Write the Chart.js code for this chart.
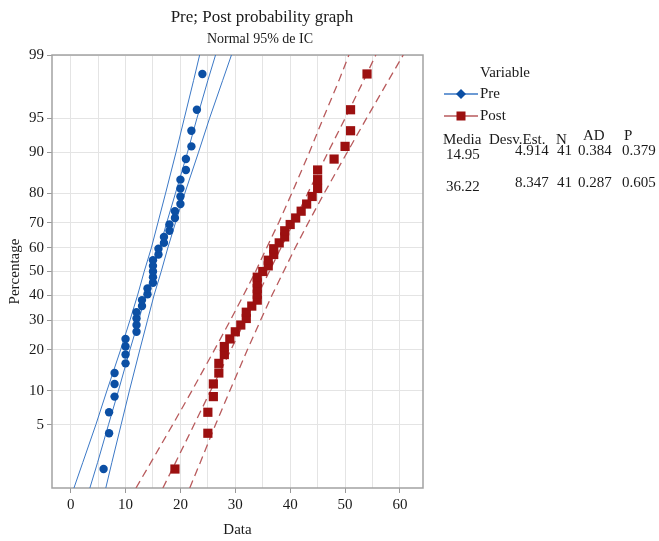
<!DOCTYPE html>
<html>
<head>
<meta charset="utf-8">
<title>Pre; Post probability graph</title>
<script src="https://cdn.jsdelivr.net/npm/chart.js@4.4.1/dist/chart.umd.min.js"></script>
<style>
  html, body { margin: 0; padding: 0; background: #fff; }
  #wrap { width: 659px; height: 541px; }
</style>
</head>
<body>
<div id="wrap"><canvas id="myChart" width="659" height="541"></canvas></div>
<script>
// Plotting position (percent) for each rank, n = 41
const rankPercent = [1.69, 4.11, 6.52, 8.94, 11.35, 13.77, 16.18, 18.60, 21.01, 23.43,
    25.85, 28.26, 30.68, 33.09, 35.51, 37.92, 40.34, 42.75, 45.17, 47.58,
    50.00, 52.42, 54.83, 57.25, 59.66, 62.08, 64.49, 66.91, 69.32, 71.74,
    74.15, 76.57, 78.99, 81.40, 83.82, 86.23, 88.65, 91.06, 93.48, 95.89, 98.31];

// Sorted scores
const preValues = [6, 7, 7, 8, 8, 8, 10, 10, 10, 10, 12, 12, 12, 12, 13, 13, 14, 14, 15, 15,
    15, 15, 15, 16, 16, 17, 17, 18, 18, 19, 19, 20, 20, 20, 20, 21, 21, 22, 22, 23, 24];
const postValues = [19, 25, 25, 26, 26, 27, 27, 28, 28, 29, 30, 31, 32, 32, 33, 34, 34, 34, 34, 34,
    35, 36, 36, 37, 37, 38, 39, 39, 40, 41, 42, 43, 44, 45, 45, 45, 48, 50, 51, 51, 54];

// Fitted line and 95% band, x read at these percents
const bandPercent = [1, 2, 5, 10, 20, 30, 40, 50, 60, 70, 80, 90, 95, 98, 99];
const preFit = [3.5, 4.9, 6.9, 8.7, 10.8, 12.4, 13.7, 15.0, 16.2, 17.5, 19.1, 21.3, 23.0, 25.0, 26.4];
const preLower = [0.6, 2.2, 4.6, 6.6, 9.1, 10.8, 12.2, 13.4, 14.7, 15.9, 17.3, 19.2, 20.7, 22.4, 23.5];
const preUpper = [6.4, 7.5, 9.2, 10.7, 12.6, 14.0, 15.2, 16.5, 17.7, 19.1, 20.8, 23.3, 25.3, 27.7, 29.3];
const postFit = [16.8, 19.1, 22.5, 25.5, 29.2, 31.8, 34.1, 36.2, 38.3, 40.6, 43.2, 46.9, 50.0, 53.4, 55.6];
const postLower = [11.9, 14.6, 18.6, 22.1, 26.2, 29.1, 31.5, 33.7, 35.7, 37.9, 40.3, 43.5, 46.0, 48.9, 50.7];
const postUpper = [21.7, 23.6, 26.4, 29.0, 32.2, 34.6, 36.7, 38.8, 40.9, 43.3, 46.2, 50.4, 53.9, 57.9, 60.6];

// Axis ticks
const xTicks = [0, 5, 10, 15, 20, 25, 30, 35, 40, 45, 50, 55, 60];
const yTicks = [5, 10, 20, 30, 40, 50, 60, 70, 80, 90, 95, 99];

// Summary table
const statHeader = ['Media', 'Desv.Est.', 'N', 'AD', 'P'];
const statPre = ['14.95', '4.914', '41', '0.384', '0.379'];
const statPost = ['36.22', '8.347', '41', '0.287', '0.605'];

const SERIF = "'Liberation Serif', 'DejaVu Serif', serif";
const PRE_DOT = '#0b4fa4';
const PRE_LINE = '#3b78c6';
const POST_DOT = '#9c1010';
const POST_LINE = '#b85a5c';

// Inverse of the standard normal CDF (Acklam)
function probit(p) {
    const a = [-3.969683028665376e+01, 2.209460984245205e+02, -2.759285104469687e+02,
        1.383577518672690e+02, -3.066479806614716e+01, 2.506628277459239e+00];
    const b = [-5.447609879822406e+01, 1.615858368580409e+02, -1.556989798598866e+02,
        6.680131188771972e+01, -1.328068155288572e+01];
    const c = [-7.784894002430293e-03, -3.223964580411365e-01, -2.400758277161838e+00,
        -2.549732539343734e+00, 4.374664141464968e+00, 2.938163982698783e+00];
    const d = [7.784695709041462e-03, 3.224671290700398e-01, 2.445134137142996e+00,
        3.754408661907416e+00];
    const pLow = 0.02425;
    let q, r;
    if (p < pLow) {
        q = Math.sqrt(-2 * Math.log(p));
        return (((((c[0] * q + c[1]) * q + c[2]) * q + c[3]) * q + c[4]) * q + c[5]) /
            ((((d[0] * q + d[1]) * q + d[2]) * q + d[3]) * q + 1);
    }
    if (p <= 1 - pLow) {
        q = p - 0.5;
        r = q * q;
        return (((((a[0] * r + a[1]) * r + a[2]) * r + a[3]) * r + a[4]) * r + a[5]) * q /
            (((((b[0] * r + b[1]) * r + b[2]) * r + b[3]) * r + b[4]) * r + 1);
    }
    q = Math.sqrt(-2 * Math.log(1 - p));
    return -(((((c[0] * q + c[1]) * q + c[2]) * q + c[3]) * q + c[4]) * q + c[5]) /
        ((((d[0] * q + d[1]) * q + d[2]) * q + d[3]) * q + 1);
}

// Standard normal CDF, only used to map pixels back to percents
function normCdf(z) {
    const t = 1 / (1 + 0.3275911 * Math.abs(z) / Math.SQRT2);
    const y = 1 - (((((1.061405429 * t - 1.453152027) * t) + 1.421413741) * t - 0.284496736) * t + 0.254829592) * t *
        Math.exp(-z * z / 2);
    return z >= 0 ? (1 + y) / 2 : (1 - y) / 2;
}

// Normal probability axis: percent values placed by their z-score
class ProbabilityScale extends Chart.Scale {
    determineDataLimits() {
        this.min = this.options.min;
        this.max = this.options.max;
    }
    buildTicks() {
        return yTicks.map(v => ({ value: v }));
    }
    configure() {
        super.configure();
        this._zMin = probit(this.min / 100);
        this._zMax = probit(this.max / 100);
    }
    getLabelForValue(value) {
        return String(value);
    }
    getPixelForValue(value) {
        const z = probit(value / 100);
        return this.getPixelForDecimal((z - this._zMin) / (this._zMax - this._zMin));
    }
    getValueForPixel(pixel) {
        const z = this._zMin + this.getDecimalForPixel(pixel) * (this._zMax - this._zMin);
        return 100 * normCdf(z);
    }
}
ProbabilityScale.id = 'probability';
ProbabilityScale.defaults = {};
Chart.register(ProbabilityScale);

function pointsOf(xs, ys) {
    return xs.map((x, i) => ({ x: x, y: ys[i] }));
}

function bandLine(xs, color, dashed) {
    return {
        data: pointsOf(xs, bandPercent),
        showLine: true,
        pointRadius: 0,
        borderColor: color,
        borderWidth: dashed ? 1.3 : 1,
        borderDash: dashed ? [8, 5] : [],
        fill: false,
        order: 2
    };
}

// Titles, legend, stats table and plot frame
const decorPlugin = {
    id: 'decor',
    beforeDatasetsDraw(chart) {
        const { ctx, chartArea } = chart;
        ctx.save();
        ctx.strokeStyle = '#a2a2a2';
        ctx.lineWidth = 1.5;
        ctx.strokeRect(chartArea.left, chartArea.top, chartArea.right - chartArea.left, chartArea.bottom - chartArea.top);
        ctx.restore();
    },
    afterDraw(chart) {
        const ctx = chart.ctx;
        ctx.save();
        ctx.fillStyle = '#1a1a1a';
        ctx.textBaseline = 'middle';

        ctx.textAlign = 'center';
        ctx.font = '17px ' + SERIF;
        ctx.fillText('Pre; Post probability graph', 262, 18);
        ctx.font = '14px ' + SERIF;
        ctx.fillText('Normal 95% de IC', 260, 39);

        // legend
        ctx.textAlign = 'left';
        ctx.font = '15px ' + SERIF;
        ctx.fillText('Variable', 480, 73);
        ctx.fillText('Pre', 480, 94);
        ctx.fillText('Post', 480, 116);

        ctx.strokeStyle = PRE_LINE;
        ctx.lineWidth = 1.5;
        ctx.beginPath();
        ctx.moveTo(444, 94);
        ctx.lineTo(478, 94);
        ctx.stroke();
        ctx.fillStyle = PRE_DOT;
        ctx.beginPath();
        ctx.moveTo(461, 89);
        ctx.lineTo(466, 94);
        ctx.lineTo(461, 99);
        ctx.lineTo(456, 94);
        ctx.closePath();
        ctx.fill();

        ctx.strokeStyle = POST_LINE;
        ctx.beginPath();
        ctx.moveTo(444, 116);
        ctx.lineTo(478, 116);
        ctx.stroke();
        ctx.fillStyle = POST_DOT;
        ctx.fillRect(456.5, 111.5, 9, 9);

        // stats table
        ctx.fillStyle = '#1a1a1a';
        ctx.font = '15px ' + SERIF;
        const headX = [443, 489, 556, 583, 624];
        const headY = [140, 140, 140, 136, 136];
        statHeader.forEach((t, i) => ctx.fillText(t, headX[i], headY[i]));

        const rowX = [446, 515, 557, 578, 622];
        [[statPre, 155, 151], [statPost, 187, 183]].forEach(([row, y0, y1]) => {
            row.forEach((t, i) => ctx.fillText(t, rowX[i], i === 0 ? y0 : y1));
        });
        ctx.restore();
    }
};

const ctx = document.getElementById('myChart').getContext('2d');
new Chart(ctx, {
    type: 'scatter',
    data: {
        datasets: [
            bandLine(preLower, PRE_LINE, false),
            bandLine(preFit, PRE_LINE, false),
            bandLine(preUpper, PRE_LINE, false),
            bandLine(postLower, POST_LINE, true),
            bandLine(postFit, POST_LINE, true),
            bandLine(postUpper, POST_LINE, true),
            {
                label: 'Pre',
                data: pointsOf(preValues, rankPercent),
                pointStyle: 'circle',
                pointRadius: 4.2,
                backgroundColor: PRE_DOT,
                borderColor: PRE_DOT,
                borderWidth: 0,
                order: 1
            },
            {
                label: 'Post',
                data: pointsOf(postValues, rankPercent),
                pointStyle: 'rect',
                pointRadius: 6.5,
                backgroundColor: POST_DOT,
                borderColor: POST_DOT,
                borderWidth: 0,
                order: 1
            }
        ]
    },
    options: {
        responsive: false,
        animation: false,
        devicePixelRatio: 1,
        events: [],
        layout: { padding: { top: 55, right: 236, left: 0, bottom: 0 } },
        plugins: {
            legend: { display: false },
            title: { display: false },
            tooltip: { enabled: false }
        },
        scales: {
            x: {
                type: 'linear',
                min: -3.4,
                max: 64.2,
                afterBuildTicks: axis => { axis.ticks = xTicks.map(v => ({ value: v })); },
                afterFit: axis => { axis.height = 53; },
                border: { display: false },
                grid: {
                    color: '#e4e4e4',
                    tickLength: 5,
                    tickColor: c => (c.tick && c.tick.value % 10 === 0) ? '#999' : 'rgba(0,0,0,0)'
                },
                ticks: {
                    callback: v => (v % 10 === 0 ? v : ''),
                    autoSkip: false,
                    maxRotation: 0,
                    padding: 3,
                    color: '#1a1a1a',
                    font: { family: SERIF, size: 15 }
                },
                title: {
                    display: true,
                    text: 'Data',
                    color: '#1a1a1a',
                    font: { family: SERIF, size: 15 },
                    padding: { top: 0, bottom: 2 }
                }
            },
            y: {
                type: 'probability',
                position: 'left',
                min: 1,
                max: 99,
                afterFit: axis => { axis.width = 52; },
                border: { display: false },
                grid: { color: '#e4e4e4', tickLength: 5, tickColor: '#999' },
                ticks: {
                    autoSkip: false,
                    padding: 3,
                    color: '#1a1a1a',
                    font: { family: SERIF, size: 15 }
                },
                title: {
                    display: true,
                    text: 'Percentage',
                    color: '#1a1a1a',
                    font: { family: SERIF, size: 15 },
                    padding: { top: 6, bottom: 0 }
                }
            }
        }
    },
    plugins: [decorPlugin]
});
</script>
</body>
</html>
